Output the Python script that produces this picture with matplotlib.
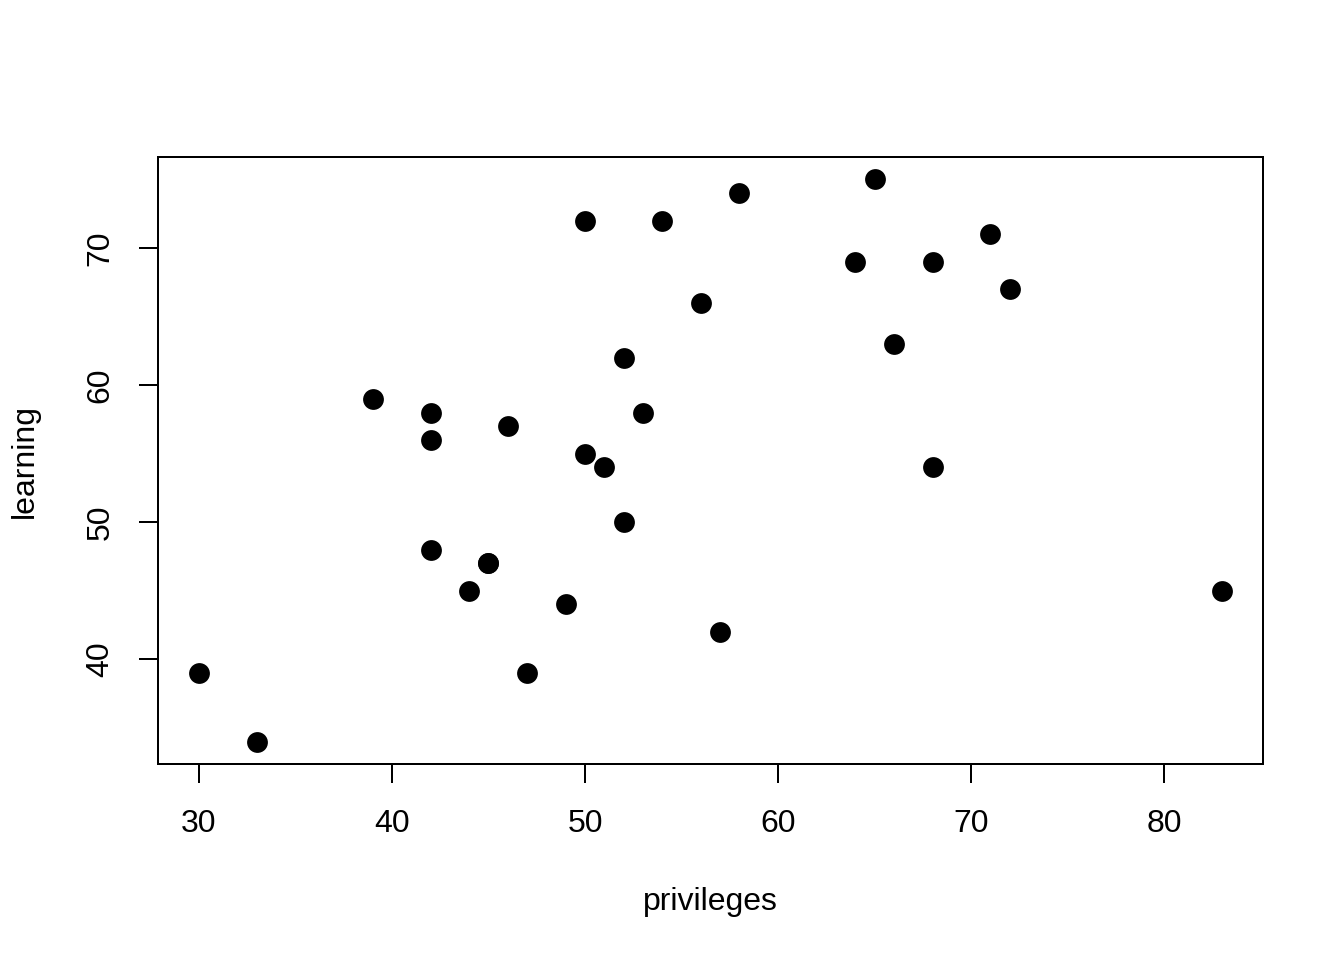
import numpy as np
import matplotlib
matplotlib.use("Agg")
import matplotlib.pyplot as plt

plt.rcParams['font.family'] = ['Liberation Sans', 'DejaVu Sans']

# attitude data: privileges vs learning
privileges = [30, 51, 68, 45, 56, 49, 42, 50, 72, 45, 53, 47, 57, 83, 54,
              50, 64, 65, 46, 68, 33, 52, 52, 42, 42, 66, 58, 44, 71, 39]
learning = [39, 54, 69, 47, 66, 44, 56, 55, 67, 47, 58, 39, 42, 45, 72,
            72, 69, 75, 57, 54, 34, 62, 50, 58, 48, 63, 74, 45, 71, 59]
x_ticks = [30, 40, 50, 60, 70, 80]
y_ticks = [40, 50, 60, 70]

fig = plt.figure(figsize=(7, 5), dpi=192)
ax = fig.add_axes([158 / 1344, 1 - 764 / 960, (1263 - 158) / 1344, (764 - 157) / 960])

ax.plot(privileges, learning, 'o', color='black', markersize=7.8, markeredgewidth=0)

# R-style 4% axis extension
xr = max(privileges) - min(privileges)
yr = max(learning) - min(learning)
ax.set_xlim(min(privileges) - 0.04 * xr, max(privileges) + 0.04 * xr)
ax.set_ylim(min(learning) - 0.04 * yr, max(learning) + 0.04 * yr)

ax.set_xticks(x_ticks)
ax.set_yticks(y_ticks)
ax.set_yticklabels([str(v) for v in y_ticks], rotation=90, va='center')
ax.tick_params(axis='both', labelsize=12, length=7, width=0.75)
ax.tick_params(axis='x', pad=10)
ax.tick_params(axis='y', pad=9)

for s in ax.spines.values():
    s.set_linewidth(0.75)

ax.set_xlabel('privileges', fontsize=12, labelpad=18)
ax.set_ylabel('learning', fontsize=12, labelpad=17)

fig.savefig('out.png', dpi=192)
